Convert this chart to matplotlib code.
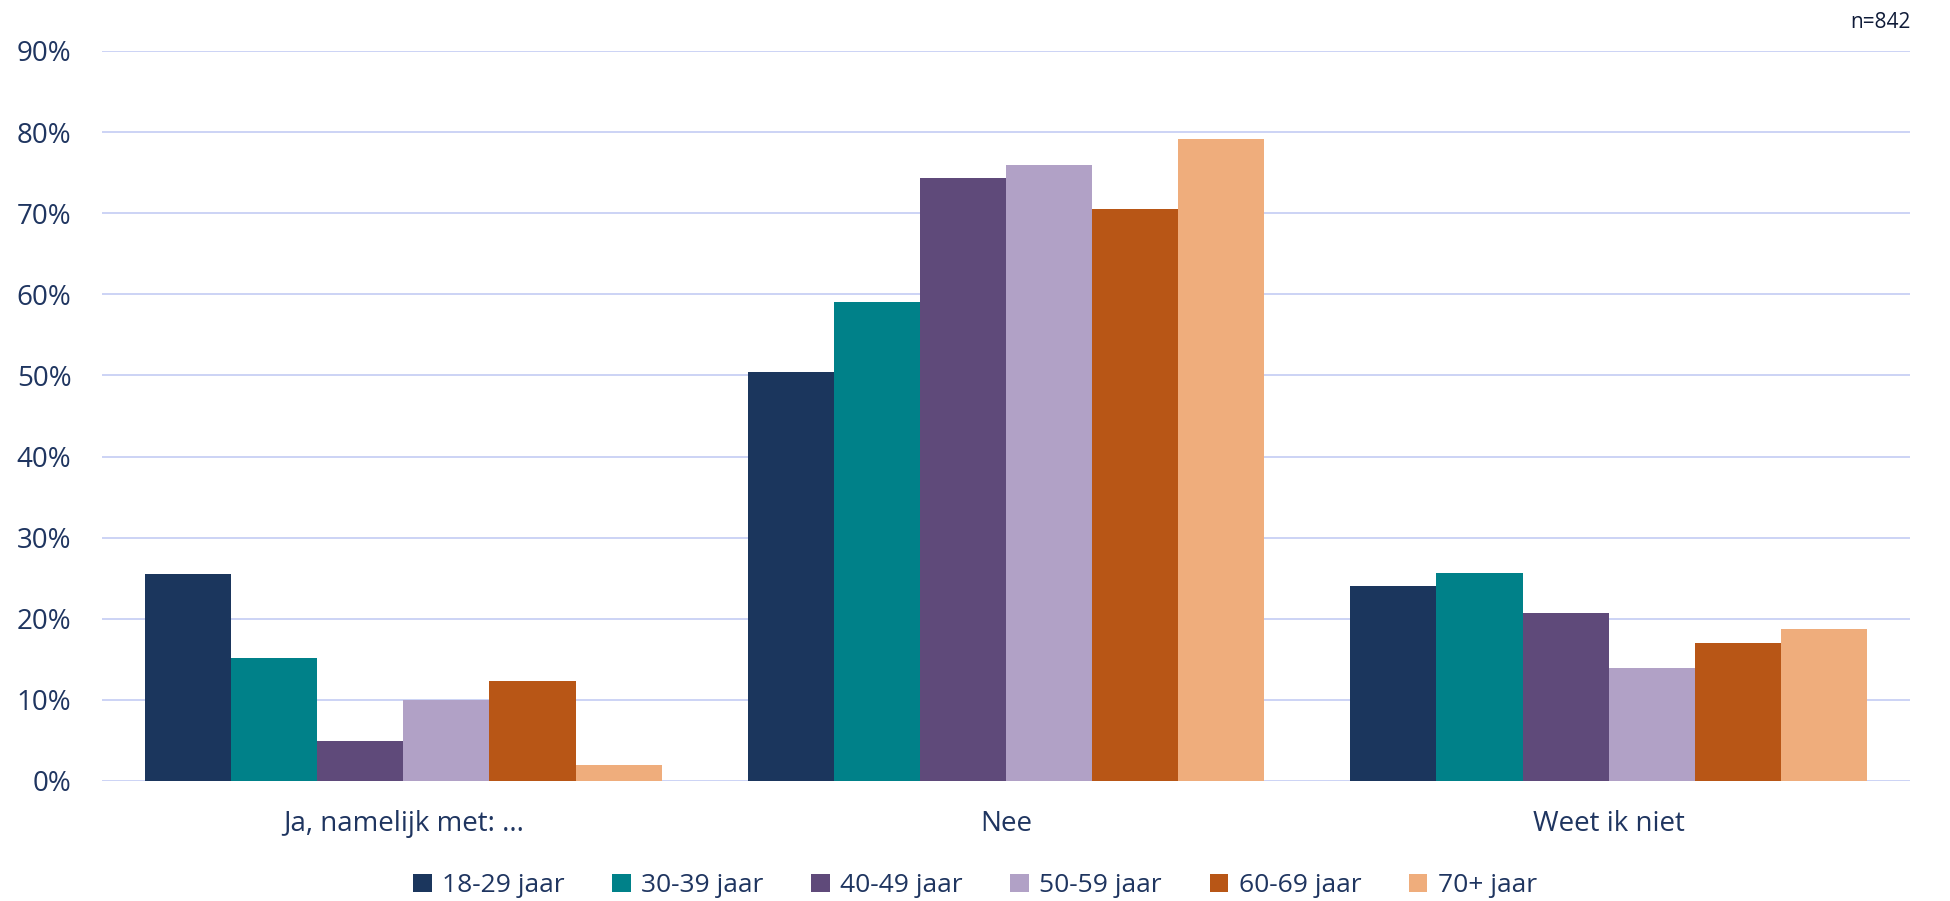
import numpy as np
import matplotlib
matplotlib.use("Agg")
import matplotlib.pyplot as plt
from matplotlib.ticker import PercentFormatter

# === DATA ===
categories = ["Ja, namelijk met: ...", "Nee", "Weet ik niet"]
age_groups = ["18-29 jaar", "30-39 jaar", "40-49 jaar", "50-59 jaar", "60-69 jaar", "70+ jaar"]
ja = [25.5, 15.2, 4.9, 10.0, 12.3, 2.0]
nee = [50.4, 59.1, 74.3, 75.9, 70.5, 79.2]
weet = [24.0, 25.7, 20.7, 13.9, 17.0, 18.7]
colors = ["#1b365d", "#008189", "#5f4a7a", "#b1a1c6", "#b85616", "#efad7c"]

values = np.array([ja, nee, weet]).T / 100  # rows = age groups

text_color = "#1f3560"
grid_color = "#c8d0f5"
plt.rcParams['font.family'] = ['Open Sans', 'DejaVu Sans']

# === PLOT ===
fig = plt.figure(figsize=(19.5, 9.01), dpi=100)
ax = fig.add_axes([0.0523, 0.1332, 0.9272, 0.8102])

x = np.arange(len(categories))
width = 1 / 7
for i, (label, col) in enumerate(zip(age_groups, colors)):
    offset = (i - 2.5) * width
    ax.bar(x + offset, values[i], width, color=col, label=label, zorder=3)

ax.set_xlim(-0.5, 2.5)
ax.set_ylim(0, 0.9)
ax.set_yticks(np.arange(0, 0.91, 0.1))
ax.yaxis.set_major_formatter(PercentFormatter(1.0, decimals=0))
ax.set_xticks(x)
ax.set_xticklabels(categories)
ax.tick_params(axis='both', length=0, labelsize=20, colors=text_color)
ax.tick_params(axis='y', pad=22)
ax.tick_params(axis='x', pad=21)
ax.grid(axis='y', color=grid_color, linewidth=1.3, zorder=0)
for s in ax.spines.values():
    s.set_visible(False)

fig.text(0.98, 0.975, "n=842", ha='right', va='center', fontsize=15, color="#0f1b38")

fig.legend(loc='center', bbox_to_anchor=(0.5, 0.017), ncol=6, frameon=False,
           fontsize=19, labelcolor=text_color, handlelength=0.7, handleheight=0.7,
           handletextpad=0.4, columnspacing=1.8)

plt.savefig("out.png", dpi=100)
